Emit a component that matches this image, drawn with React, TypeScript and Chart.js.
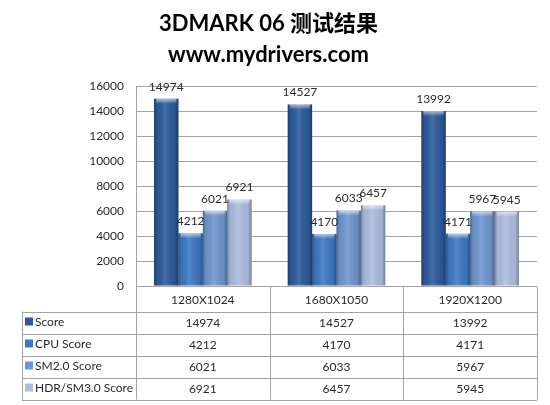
import { useEffect, useRef } from 'react';
import Chart from 'chart.js/auto';

const CATEGORIES = ['1280X1024', '1680X1050', '1920X1200'];
const SERIES_NAMES = ['Score', 'CPU Score', 'SM2.0 Score', 'HDR/SM3.0 Score'];
const SCORE = [14974, 14527, 13992];
const CPU_SCORE = [4212, 4170, 4171];
const SM2_SCORE = [6021, 6033, 5967];
const HDR_SCORE = [6921, 6457, 5945];
const Y_MAX = 16000;
const Y_STEP = 2000;
const TITLE = ['3DMARK 06 测试结果', 'www.mydrivers.com'];

const COLORS = ['#2b5a9a', '#3d78c4', '#6f96d0', '#adbde0'];
const GRID = '#a3a3a3';
const FONT = 'Lato, "Noto Sans CJK SC", sans-serif';

// shading + value labels on top of the bars
const barDecor = {
  id: 'barDecor',
  afterDatasetsDraw(chart: any) {
    const ctx = chart.ctx;
    const bars: any[] = [];
    chart.data.datasets.forEach((ds: any, di: number) => {
      chart.getDatasetMeta(di).data.forEach((bar: any, i: number) => {
        const { x, y, base, width } = bar.getProps(['x', 'y', 'base', 'width'], true);
        const l = x - width / 2;
        const g = ctx.createLinearGradient(l, 0, l + width, 0);
        g.addColorStop(0, 'rgba(0,0,0,0.32)');
        g.addColorStop(0.12, 'rgba(0,0,0,0.06)');
        g.addColorStop(0.45, 'rgba(255,255,255,0.12)');
        g.addColorStop(0.85, 'rgba(0,0,0,0.06)');
        g.addColorStop(1, 'rgba(0,0,0,0.32)');
        ctx.save();
        ctx.fillStyle = g;
        ctx.fillRect(l, y, width, base - y);
        const cap = ctx.createLinearGradient(0, y, 0, y + 5);
        cap.addColorStop(0, 'rgba(255,255,255,0.6)');
        cap.addColorStop(1, 'rgba(255,255,255,0)');
        ctx.fillStyle = cap;
        ctx.fillRect(l + 2, y, width - 4, 5);
        ctx.restore();
        bars.push({ x, y, v: ds.data[i] });
      });
    });
    ctx.save();
    ctx.font = '12px ' + FONT;
    ctx.fillStyle = '#2a2a2a';
    ctx.textAlign = 'center';
    ctx.textBaseline = 'middle';
    bars.forEach((b) => ctx.fillText(String(b.v), b.x, b.y - 12));
    ctx.restore();
  }
};

// data table under the plot
const dataTable = {
  id: 'dataTable',
  afterDraw(chart: any) {
    const { ctx, chartArea: a } = chart;
    const n = CATEGORIES.length;
    const colW = (a.right - a.left) / n;
    const headerH = 25;
    const rowH = 22;
    const tableLeft = 22;
    const top = a.bottom + 0.5;
    const rowsTop = top + headerH;
    const bottom = rowsTop + rowH * SERIES_NAMES.length;
    const values = [SCORE, CPU_SCORE, SM2_SCORE, HDR_SCORE];

    ctx.save();
    ctx.strokeStyle = GRID;
    ctx.lineWidth = 1;
    ctx.beginPath();
    ctx.moveTo(a.left, top);
    ctx.lineTo(a.right, top);
    for (let r = 0; r <= SERIES_NAMES.length; r++) {
      const y = Math.round(rowsTop + r * rowH) + 0.5;
      ctx.moveTo(tableLeft, y);
      ctx.lineTo(a.right, y);
    }
    for (let c = 0; c <= n; c++) {
      const x = Math.round(a.left + c * colW) + 0.5;
      ctx.moveTo(x, top);
      ctx.lineTo(x, bottom);
    }
    ctx.moveTo(tableLeft + 0.5, rowsTop);
    ctx.lineTo(tableLeft + 0.5, bottom);
    ctx.stroke();

    ctx.font = '12px ' + FONT;
    ctx.fillStyle = '#2a2a2a';
    ctx.textBaseline = 'middle';
    ctx.textAlign = 'center';
    CATEGORIES.forEach((c, i) => ctx.fillText(c, a.left + (i + 0.5) * colW, top + headerH / 2 + 1));

    SERIES_NAMES.forEach((name, r) => {
      const cy = rowsTop + (r + 0.5) * rowH;
      ctx.fillStyle = COLORS[r];
      ctx.fillRect(tableLeft + 3, cy - 5, 8, 8);
      ctx.fillStyle = '#2a2a2a';
      ctx.textAlign = 'left';
      ctx.fillText(name, tableLeft + 13, cy);
      ctx.textAlign = 'center';
      values[r].forEach((v, i) => ctx.fillText(String(v), a.left + (i + 0.5) * colW, cy + 1));
    });
    ctx.restore();
  }
};

export default function App() {
  const canvasRef = useRef<HTMLCanvasElement | null>(null);

  useEffect(() => {
    document.body.style.margin = '0';
    if (!canvasRef.current) return;
    const chart = new Chart(canvasRef.current, {
      type: 'bar',
      data: {
        labels: CATEGORIES,
        datasets: [SCORE, CPU_SCORE, SM2_SCORE, HDR_SCORE].map((d, i) => ({
          label: SERIES_NAMES[i],
          data: d,
          backgroundColor: COLORS[i],
          borderWidth: 0,
          barPercentage: 1,
          categoryPercentage: 0.73
        }))
      },
      options: {
        animation: false,
        responsive: true,
        maintainAspectRatio: false,
        layout: {
          padding: { left: 0, right: 13, top: 0, bottom: 119 }
        },
        plugins: {
          legend: { display: false },
          tooltip: { enabled: false },
          title: {
            display: true,
            text: TITLE,
            color: '#000',
            font: { family: FONT, size: 22, weight: 'bold', lineHeight: '31px' },
            padding: { top: 8.5, bottom: 15.5 }
          }
        },
        scales: {
          x: {
            display: false
          },
          y: {
            min: 0,
            max: Y_MAX,
            ticks: {
              stepSize: Y_STEP,
              color: '#2a2a2a',
              font: { family: FONT, size: 12 },
              padding: 12,
              callback: (v: any) => String(v)
            },
            grid: { color: GRID, drawTicks: false },
            border: { display: true, color: GRID },
            afterFit: (scale: any) => {
              scale.width = 136;
            }
          }
        }
      },
      plugins: [barDecor, dataTable]
    });
    return () => chart.destroy();
  }, []);

  return (
    <div style={{ width: 550, height: 405, position: 'relative' }}>
      <canvas ref={canvasRef}></canvas>
    </div>
  );
}
